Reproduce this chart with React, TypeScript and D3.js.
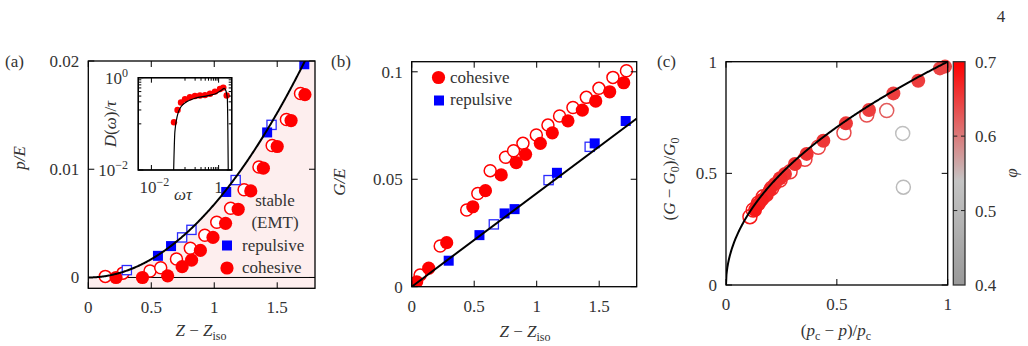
import React from 'react';
import * as d3 from 'd3';

const FONT = '"Liberation Serif", "Times New Roman", serif';
const FS = 17;
const TICK = 6;

// (a) p/E against Z - Ziso
const aCohX = [0.22, 0.43, 0.63, 0.745, 0.82, 0.89, 0.99, 1.09, 1.19, 1.29, 1.39, 1.5, 1.61, 1.72];
const aCohY = [0, 0, 0.00015, 0.001, 0.0016, 0.0025, 0.0037, 0.005, 0.0063, 0.008, 0.0101, 0.0121, 0.0145, 0.0169];
const aCohOpenX = [0.135, 0.275, 0.49, 0.575, 0.7, 0.81, 0.925, 1.02, 1.13, 1.237, 1.355, 1.46, 1.573, 1.685];
const aCohOpenY = [0.0001, 0.0004, 0.0006, 0.0009, 0.0017, 0.0027, 0.0039, 0.0051, 0.0064, 0.0081, 0.0102, 0.0122, 0.0146, 0.017];
const aRepX = [0.553, 0.657, 1.095, 1.42, 1.715];
const aRepY = [0.002, 0.0029, 0.0079, 0.0134, 0.0197];
const aRepOpenX = [0.306, 0.745, 0.819, 1.17, 1.455];
const aRepOpenY = [0.00068, 0.0037, 0.0044, 0.009, 0.0141];
const emtCoef = 0.00676; // p/E = c (Z - Ziso)^2

// (a) inset: density of states
const dosW = [0.045, 0.05, 0.06, 0.076, 0.112, 0.198, 0.493, 0.877, 1.24, 1.48, 1.66, 1.82, 1.95];
const dosD = [0.005, 0.068, 0.156, 0.235, 0.3, 0.358, 0.41, 0.46, 0.54, 0.59, 0.515, 0.358, 0.005];
const dosDotW = [0.047, 0.06, 0.076, 0.1, 0.14, 0.198, 0.279, 0.394, 0.555, 0.78, 1.1, 1.38, 1.74];
const dosDotD = [0.108, 0.2, 0.29, 0.34, 0.376, 0.4, 0.41, 0.42, 0.45, 0.5, 0.57, 0.61, 0.41];

// (b) G/E against Z - Ziso
const bCohX = [0.04, 0.136, 0.28, 0.489, 0.59, 0.716, 0.836, 0.911, 1.029, 1.125, 1.25, 1.365, 1.472, 1.584, 1.696];
const bCohY = [0.0023, 0.0086, 0.0205, 0.0372, 0.0447, 0.052, 0.0577, 0.0616, 0.0667, 0.0716, 0.0772, 0.0822, 0.0864, 0.0907, 0.0949];
const bCohOpenX = [0.067, 0.228, 0.44, 0.529, 0.628, 0.751, 0.815, 0.89, 0.997, 1.09, 1.183, 1.29, 1.397, 1.498, 1.61, 1.718];
const bCohOpenY = [0.0054, 0.0189, 0.0357, 0.0434, 0.054, 0.0602, 0.0633, 0.0667, 0.0706, 0.0752, 0.0794, 0.0834, 0.0881, 0.0923, 0.0974, 0.1005];
const bRepX = [0.296, 0.542, 0.743, 0.823, 1.162, 1.464, 1.712];
const bRepY = [0.0121, 0.024, 0.0341, 0.0361, 0.053, 0.0667, 0.0771];
const bRepOpenX = [0.657, 1.095, 1.424];
const bRepOpenY = [0.029, 0.0496, 0.0651];
const bSlope = 0.0435;

// (c) (G - G0)/G0 against (pc - p)/pc, coloured by phi
const cX = [0.988, 0.965, 0.867, 0.755, 0.645, 0.541, 0.439, 0.364, 0.311, 0.266, 0.244, 0.221, 0.198, 0.184, 0.161, 0.141, 0.131];
const cY = [0.978, 0.97, 0.915, 0.858, 0.784, 0.724, 0.646, 0.587, 0.542, 0.497, 0.478, 0.452, 0.425, 0.403, 0.381, 0.358, 0.336];
const cPhi = [0.645, 0.645, 0.65, 0.65, 0.65, 0.655, 0.655, 0.66, 0.66, 0.66, 0.665, 0.665, 0.67, 0.67, 0.675, 0.675, 0.68];
const cOpenX = [0.725, 0.635, 0.532, 0.416, 0.356, 0.289, 0.244, 0.206, 0.168, 0.146, 0.123, 0.108, 0.797, 0.8];
const cOpenY = [0.781, 0.761, 0.682, 0.617, 0.563, 0.507, 0.47, 0.433, 0.395, 0.366, 0.336, 0.306, 0.679, 0.438];
const cOpenPhi = [0.625, 0.635, 0.64, 0.645, 0.65, 0.655, 0.66, 0.665, 0.67, 0.675, 0.68, 0.68, 0.525, 0.51];
const cbarTicks = [0.4, 0.5, 0.6, 0.7];

const A = { l: 88.3, r: 315, t: 61, b: 288.3 };
const IN = { l: 138.3, r: 231.7, t: 77.7, b: 170 };
const B = { l: 411.7, r: 636.7, t: 61.7, b: 286.7 };
const C = { l: 726, r: 947.7, t: 61.7, b: 285 };
const CB = { l: 953.3, r: 965, t: 61.7, b: 285 };

const phiColor = d3.scaleLinear<string>().domain([0.4, 0.54, 0.7]).range(['#999999', '#c4c4c4', '#ff0000']);

type Box = { l: number; r: number; t: number; b: number };

function frame(box: Box, x: any, y: any, xt: number[], yt: number[], len = TICK, key = 'f') {
  const out: any[] = [];
  xt.forEach((v, i) => {
    const p = x(v);
    out.push(<line key={key + 'xb' + i} x1={p} x2={p} y1={box.b} y2={box.b - len} stroke="#000" strokeWidth={1} />);
    out.push(<line key={key + 'xt' + i} x1={p} x2={p} y1={box.t} y2={box.t + len} stroke="#000" strokeWidth={1} />);
  });
  yt.forEach((v, i) => {
    const p = y(v);
    out.push(<line key={key + 'yl' + i} x1={box.l} x2={box.l + len} y1={p} y2={p} stroke="#000" strokeWidth={1} />);
    out.push(<line key={key + 'yr' + i} x1={box.r} x2={box.r - len} y1={p} y2={p} stroke="#000" strokeWidth={1} />);
  });
  out.push(<rect key={key + 'box'} x={box.l} y={box.t} width={box.r - box.l} height={box.b - box.t} fill="none" stroke="#000" strokeWidth={1.3} />);
  return out;
}

function tickLabels(box: Box, x: any, y: any, xt: number[], xl: string[], yt: number[], yl: string[]) {
  return (
    <g fill="#333">
      {xt.map((v, i) => (
        <text key={'x' + i} x={x(v)} y={box.b + 25} textAnchor="middle">{xl[i]}</text>
      ))}
      {yt.map((v, i) => (
        <text key={'y' + i} x={box.l - 9} y={y(v) + 6} textAnchor="end">{yl[i]}</text>
      ))}
    </g>
  );
}

function Square({ cx, cy, open }: { cx: number; cy: number; open?: boolean }) {
  return open
    ? <rect x={cx - 4.6} y={cy - 4.6} width={9.2} height={9.2} fill="#fff" stroke="#2b2bff" strokeWidth={1.3} />
    : <rect x={cx - 5} y={cy - 5} width={10} height={10} fill="#0000ff" />;
}

function PanelA() {
  const x = d3.scaleLinear().domain([0, 1.8]).range([A.l, A.r]);
  const y = d3.scaleLinear().domain([-0.001, 0.02]).range([A.b, A.t]);
  const zs = d3.range(0, 1.8001, 0.005);
  const area = d3.area<number>().x(d => x(d)).y0(A.b).y1(d => y(Math.min(emtCoef * d * d, 0.02)));
  const line = d3.line<number>().x(d => x(d)).y(d => y(emtCoef * d * d));

  const ix = d3.scaleLog().domain([Math.pow(10, -2.39), Math.pow(10, 0.39)]).range([IN.l, IN.r]);
  const iy = d3.scaleLog().domain([0.01, 1]).range([IN.b, IN.t]);
  const dosLine = d3.line<number>().x((_, i) => ix(dosW[i])).y((_, i) => iy(dosD[i])).curve(d3.curveMonotoneX);
  const minor = d3.range(1, 10).map(k => k / 10);

  return (
    <g>
      <defs>
        <clipPath id="clipA"><rect x={A.l} y={A.t} width={A.r - A.l} height={A.b - A.t} /></clipPath>
        <clipPath id="clipIn"><rect x={IN.l} y={IN.t} width={IN.r - IN.l} height={IN.b - IN.t} /></clipPath>
      </defs>
      <path d={area(zs) || ''} fill="#fdeeee" clipPath="url(#clipA)" />
      <line x1={A.l} x2={A.r} y1={y(0)} y2={y(0)} stroke="#000" strokeWidth={1} />
      <g clipPath="url(#clipA)">
        {aCohOpenX.map((v, i) => (
          <circle key={'co' + i} cx={x(v)} cy={y(aCohOpenY[i])} r={6} fill="#fff" stroke="#ff0000" strokeWidth={1.5} />
        ))}
        {aCohX.map((v, i) => (
          <circle key={'c' + i} cx={x(v)} cy={y(aCohY[i])} r={6.6} fill="#ff0000" />
        ))}
        {aRepOpenX.map((v, i) => <Square key={'ro' + i} cx={x(v)} cy={y(aRepOpenY[i])} open />)}
        {aRepX.map((v, i) => <Square key={'r' + i} cx={x(v)} cy={y(aRepY[i])} />)}
        <path d={line(zs) || ''} fill="none" stroke="#000" strokeWidth={2} />
      </g>
      {frame(A, x, y, [0, 0.5, 1, 1.5], [0, 0.01, 0.02], TICK, 'a')}
      {tickLabels(A, x, y, [0, 0.5, 1, 1.5], ['0', '0.5', '1', '1.5'], [0, 0.01, 0.02], ['0', '0.01', '0.02'])}

      {/* legend */}
      <g fill="#333">
        <text x={275} y={206} textAnchor="middle">stable</text>
        <text x={275} y={228} textAnchor="middle">(EMT)</text>
        <text x={242} y={251}>repulsive</text>
        <text x={242} y={273}>cohesive</text>
      </g>
      <Square cx={227} cy={245.5} />
      <circle cx={227} cy={268} r={6.6} fill="#ff0000" />

      {/* inset */}
      <rect x={IN.l} y={IN.t} width={IN.r - IN.l} height={IN.b - IN.t} fill="#fff" />
      <g clipPath="url(#clipIn)">
        {dosDotW.map((v, i) => (
          <circle key={'d' + i} cx={ix(v)} cy={iy(dosDotD[i])} r={3.2} fill="#ff0000" />
        ))}
        <path d={dosLine(dosW) || ''} fill="none" stroke="#000" strokeWidth={1.2} />
      </g>
      {frame(IN, ix, iy, [0.01, 1], [0.01, 1], 5, 'i')}
      {frame(IN, ix, iy, minor, minor, 3, 'im')}
      <g fill="#333">
        <text x={128} y={84} textAnchor="end">10<tspan dy={-7} fontSize={12}>0</tspan></text>
        <text x={128} y={176} textAnchor="end">10<tspan dy={-7} fontSize={12}>−2</tspan></text>
        <text x={ix(0.01) + 3} y={193} textAnchor="middle">10<tspan dy={-7} fontSize={12}>−2</tspan></text>
        <text x={ix(1)} y={193} textAnchor="middle">1</text>
        <text x={183} y={200} textAnchor="middle" fontStyle="italic">ωτ</text>
        <text transform="translate(116,124) rotate(-90)" textAnchor="middle">
          <tspan fontStyle="italic">D</tspan>(<tspan fontStyle="italic">ω</tspan>)/<tspan fontStyle="italic">τ</tspan>
        </text>
      </g>

      <g fill="#333">
        <text x={5} y={67}>(a)</text>
        <text transform="translate(25,158) rotate(-90)" textAnchor="middle" fontStyle="italic">p/E</text>
        <text x={201} y={336} textAnchor="middle">
          <tspan fontStyle="italic">Z</tspan> − <tspan fontStyle="italic">Z</tspan><tspan dy={4} fontSize={12}>iso</tspan>
        </text>
      </g>
    </g>
  );
}

function PanelB() {
  const x = d3.scaleLinear().domain([0, 1.8]).range([B.l, B.r]);
  const y = d3.scaleLinear().domain([0, 0.1047]).range([B.b, B.t]);
  const line = d3.line<number>().x(d => x(d)).y(d => y(bSlope * d));
  return (
    <g>
      <defs>
        <clipPath id="clipB"><rect x={B.l} y={B.t} width={B.r - B.l} height={B.b - B.t} /></clipPath>
      </defs>
      <g clipPath="url(#clipB)">
        {bCohOpenX.map((v, i) => (
          <circle key={'co' + i} cx={x(v)} cy={y(bCohOpenY[i])} r={6} fill="#fff" stroke="#ff0000" strokeWidth={1.5} />
        ))}
        {bCohX.map((v, i) => (
          <circle key={'c' + i} cx={x(v)} cy={y(bCohY[i])} r={6.6} fill="#ff0000" />
        ))}
        {bRepOpenX.map((v, i) => <Square key={'ro' + i} cx={x(v)} cy={y(bRepOpenY[i])} open />)}
        {bRepX.map((v, i) => <Square key={'r' + i} cx={x(v)} cy={y(bRepY[i])} />)}
        <path d={line([0, 1.8]) || ''} fill="none" stroke="#000" strokeWidth={2} />
      </g>
      {frame(B, x, y, [0, 0.5, 1, 1.5], [0, 0.05, 0.1], TICK, 'b')}
      {tickLabels(B, x, y, [0, 0.5, 1, 1.5], ['0', '0.5', '1', '1.5'], [0, 0.05, 0.1], ['0', '0.05', '0.1'])}
      <circle cx={438.5} cy={77.5} r={6.6} fill="#ff0000" />
      <Square cx={439} cy={100.5} />
      <g fill="#333">
        <text x={450} y={83}>cohesive</text>
        <text x={450} y={105}>repulsive</text>
        <text x={331} y={67}>(b)</text>
        <text transform="translate(345,182) rotate(-90)" textAnchor="middle" fontStyle="italic">G/E</text>
        <text x={525} y={337} textAnchor="middle">
          <tspan fontStyle="italic">Z</tspan> − <tspan fontStyle="italic">Z</tspan><tspan dy={4} fontSize={12}>iso</tspan>
        </text>
      </g>
    </g>
  );
}

function PanelC() {
  const x = d3.scaleLinear().domain([0, 1]).range([C.l, C.r]);
  const y = d3.scaleLinear().domain([0, 1]).range([C.b, C.t]);
  const us = d3.range(0, 1.0001, 0.002);
  const line = d3.line<number>().x(d => x(d)).y(d => y(Math.sqrt(d)));
  const cb = d3.scaleLinear().domain([0.4, 0.7]).range([CB.b, CB.t]);
  const stops = d3.range(0.4, 0.7001, 0.01);
  return (
    <g>
      <defs>
        <clipPath id="clipC"><rect x={C.l} y={C.t} width={C.r - C.l} height={C.b - C.t} /></clipPath>
        <linearGradient id="phiGrad" x1="0" y1="1" x2="0" y2="0">
          {stops.map((s, i) => (
            <stop key={i} offset={(s - 0.4) / 0.3} stopColor={phiColor(s)} />
          ))}
        </linearGradient>
      </defs>
      {cOpenX.map((v, i) => (
        <circle key={'o' + i} cx={x(v)} cy={y(cOpenY[i])} r={7} fill="none" stroke={phiColor(cOpenPhi[i])} strokeWidth={1.5} />
      ))}
      {cX.map((v, i) => (
        <circle key={'f' + i} cx={x(v)} cy={y(cY[i])} r={7} fill={phiColor(cPhi[i])} />
      ))}
      <path d={line(us) || ''} fill="none" stroke="#000" strokeWidth={2} clipPath="url(#clipC)" />
      {frame(C, x, y, [0, 0.5, 1], [0, 0.5, 1], TICK, 'c')}
      {tickLabels(C, x, y, [0, 0.5, 1], ['0', '0.5', '1'], [0, 0.5, 1], ['0', '0.5', '1'])}

      <rect x={CB.l} y={CB.t} width={CB.r - CB.l} height={CB.b - CB.t} fill="url(#phiGrad)" stroke="#333" strokeWidth={1.3} />
      {[0.5, 0.6].map(v => (
        <g key={v} stroke="#222" strokeWidth={1}>
          <line x1={CB.l} x2={CB.l + 4} y1={cb(v)} y2={cb(v)} />
          <line x1={CB.r - 4} x2={CB.r} y1={cb(v)} y2={cb(v)} />
        </g>
      ))}
      <g fill="#333">
        {cbarTicks.map(v => (
          <text key={v} x={975} y={cb(v) + 6}>{v.toFixed(1)}</text>
        ))}
        <text transform="translate(1017,173) rotate(-90)" textAnchor="middle" fontStyle="italic">φ</text>
        <text x={657} y={67}>(c)</text>
        <text transform="translate(675,179) rotate(-90)" textAnchor="middle">
          (<tspan fontStyle="italic">G</tspan> − <tspan fontStyle="italic">G</tspan><tspan dy={4} fontSize={12}>0</tspan><tspan dy={-4}>)/</tspan><tspan fontStyle="italic">G</tspan><tspan dy={4} fontSize={12}>0</tspan>
        </text>
        <text x={836} y={336} textAnchor="middle">
          (<tspan fontStyle="italic">p</tspan><tspan dy={4} fontSize={12}>c</tspan><tspan dy={-4}> − </tspan><tspan fontStyle="italic">p</tspan>)/<tspan fontStyle="italic">p</tspan><tspan dy={4} fontSize={12}>c</tspan>
        </text>
      </g>
    </g>
  );
}

export default function App() {
  return (
    <svg width={1028} height={346} viewBox="0 0 1028 346" fontFamily={FONT} fontSize={FS}
      style={{ position: 'absolute', left: 0, top: 0, background: '#fff' }}>
      <rect width={1028} height={346} fill="#fff" />
      <text x={1001} y={22} textAnchor="middle" fill="#333">4</text>
      <PanelA />
      <PanelB />
      <PanelC />
    </svg>
  );
}
